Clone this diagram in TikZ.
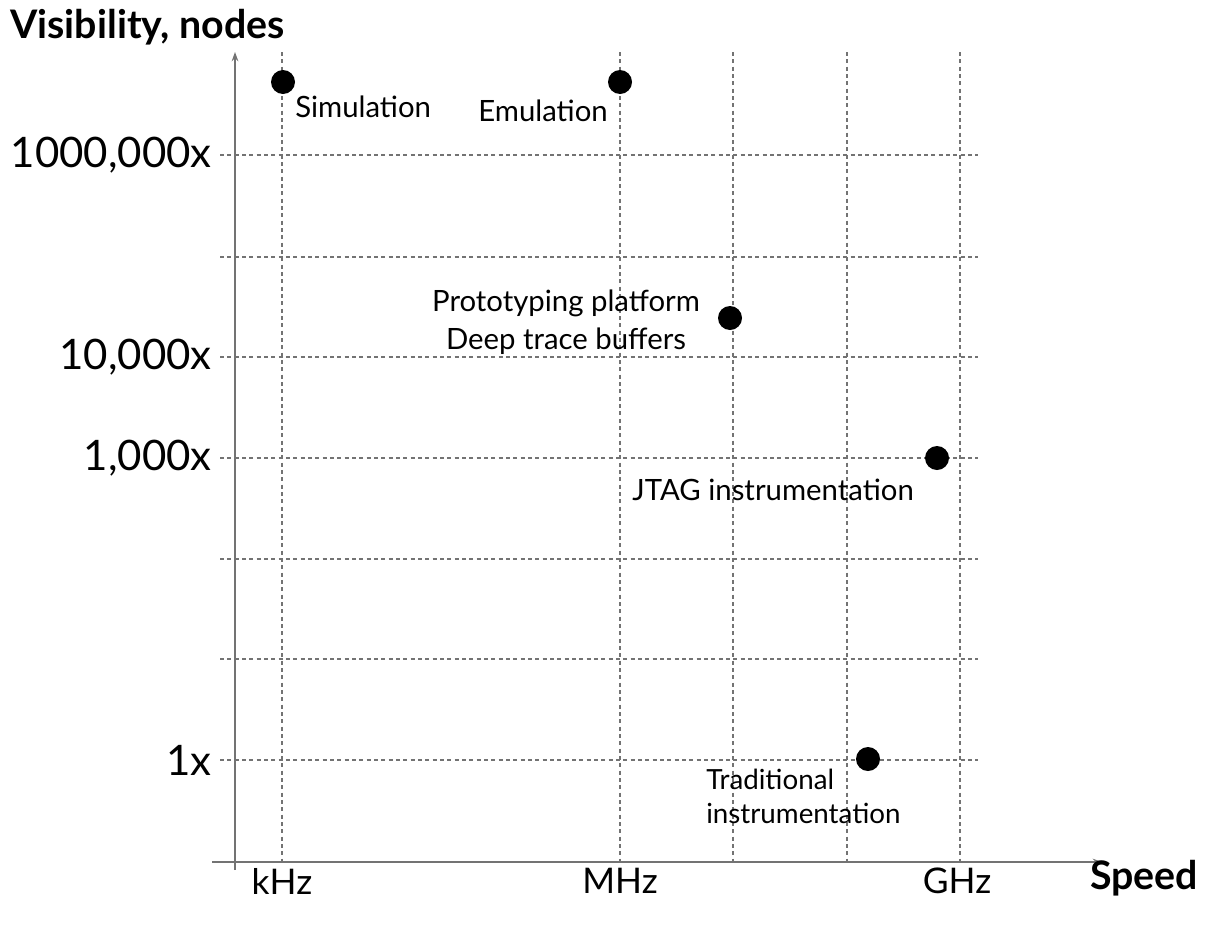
\documentclass[tikz,border=0pt]{standalone}
\usepackage{fontspec}
\setmainfont{Lato}
\usetikzlibrary{arrows.meta}
\begin{document}
\begin{tikzpicture}[x=0.75pt,y=-0.75pt,
  axis/.style={draw=black!55,line width=1.1pt,-{Stealth[length=7pt,width=5pt]}},
  grid/.style={draw=black!55,line width=0.8pt,dash pattern=on 3pt off 2.5pt},
  dot/.style={circle,fill=black,minimum size=18pt,inner sep=0pt},
  lab/.style={font=\fontsize{22}{28.5}\selectfont,inner sep=0pt},
  ylab/.style={font=\fontsize{31.5}{34}\selectfont,anchor=east,inner sep=0pt},
  xlab/.style={font=\fontsize{26.5}{30}\selectfont,inner sep=0pt},
  title/.style={font=\bfseries\fontsize{29.5}{32}\selectfont,inner sep=0pt}]
\useasboundingbox (0,0) rectangle (1207,925);
% grid
\foreach \yy in {155,257,357,458,559,659,760}
  \draw[grid] (220,\yy) -- (978,\yy);
\foreach \xx in {282,620,733,847,960}
  \draw[grid] (\xx,52) -- (\xx,862);
% axes
\coordinate (yb) at (235,870);
\coordinate (yt) at (235,52);
\coordinate (xl) at (212,862);
\coordinate (xr) at (1102,862);
\draw[axis] (yb) -- (yt);
\draw[axis] (xl) -- (xr);
% titles
\node[title,anchor=west] (vt) at (10,27) {Visibility, nodes};
\node[title,anchor=west] (sp) at (1090,878) {Speed};
% y labels
\node[ylab] (y1) at (212,155) {1000,000x};
\node[ylab] (y2) at (212,357) {10,000x};
\node[ylab] (y3) at (212,458) {1,000x};
\node[ylab] (y4) at (212,760) {1x};
% x labels
\node[xlab] (x1) at (282,881) {kHz};
\node[xlab] (x2) at (620,881) {MHz};
\node[xlab] (x3) at (957,881) {GHz};
% dots
\node[dot] (sim) at (283,82) {};
\node[dot] (emu) at (620,82) {};
\node[dot] (pro) at (730,318) {};
\node[dot] (jtag) at (937,458) {};
\node[dot] (trad) at (868,759) {};
% labels
\node[lab,anchor=west] (simL) at (295,107) {Simulation};
\node[lab,anchor=east] (emuL) at (608,111) {Emulation};
\node[lab,align=center] (proL) at (566,322) {Prototyping platform\\Deep trace buffers};
\node[lab,align=left,anchor=west,font=\fontsize{20.8}{25.5}\selectfont] (tradL) at (706,796) {Traditional\\instrumentation};
\node[lab,anchor=east] (jtagL) at (914,490) {JTAG instrumentation};
\end{tikzpicture}
\end{document}
